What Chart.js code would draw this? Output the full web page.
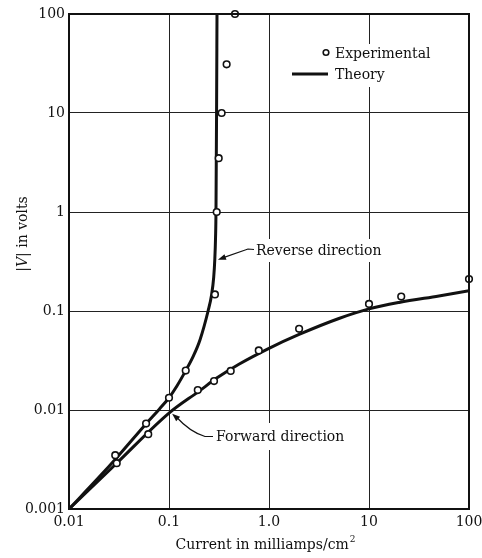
<!DOCTYPE html>
<html>
<head>
<meta charset="utf-8">
<script src="https://cdn.jsdelivr.net/npm/chart.js@4"></script>
<style>
  html, body { margin: 0; padding: 0; background: #fff; }
  #wrap { width: 482px; height: 558px; }
</style>
</head>
<body>
<div id="wrap"><canvas id="chart" width="482" height="558"></canvas></div>
<script>
// experimental points, reverse direction
const revExpX = [0.029, 0.059, 0.10, 0.147, 0.288, 0.30, 0.314, 0.336, 0.377, 0.457]
const revExpY = [0.0035, 0.0073, 0.0133, 0.025, 0.147, 1.0, 3.5, 10, 31, 100]
// experimental points, forward direction
const fwdExpX = [0.030, 0.062, 0.194, 0.282, 0.414, 0.79, 2.0, 10, 21, 100]
const fwdExpY = [0.0029, 0.0057, 0.0159, 0.0196, 0.0248, 0.040, 0.066, 0.118, 0.14, 0.21]
// theory curves
const revThX = [0.01, 0.02, 0.03, 0.06, 0.08, 0.1, 0.12, 0.147, 0.175, 0.204, 0.246, 0.267, 0.28, 0.287, 0.292, 0.295, 0.299, 0.302]
const revThY = [0.001, 0.0021, 0.0033, 0.0074, 0.0102, 0.0133, 0.0175, 0.025, 0.035, 0.051, 0.1, 0.147, 0.22, 0.33, 0.55, 1, 10, 100]
const fwdThX = [0.01, 0.03, 0.1, 0.2, 0.3, 0.5, 1, 2, 5, 10, 20, 50, 100]
const fwdThY = [0.001, 0.0029, 0.0093, 0.0155, 0.021, 0.029, 0.042, 0.058, 0.084, 0.105, 0.122, 0.142, 0.16]

const xTicks = [0.01, 0.1, 1, 10, 100]
const xTickLabels = ['0.01', '0.1', '1.0', '10', '100']
const yTicks = [0.001, 0.01, 0.1, 1, 10, 100]
const yTickLabels = ['0.001', '0.01', '0.1', '1', '10', '100']

const FONT = 'DejaVu Serif'
const pts = (xs, ys) => xs.map((x, i) => ({ x, y: ys[i] }))

function arrowHead(ctx, fx, fy, tx, ty) {
  const a = Math.atan2(ty - fy, tx - fx)
  const len = 8, w = 3
  ctx.beginPath()
  ctx.moveTo(tx, ty)
  ctx.lineTo(tx - len * Math.cos(a) + w * Math.sin(a), ty - len * Math.sin(a) - w * Math.cos(a))
  ctx.lineTo(tx - len * Math.cos(a) - w * Math.sin(a), ty - len * Math.sin(a) + w * Math.cos(a))
  ctx.closePath()
  ctx.fill()
}

const decor = {
  id: 'decor',
  beforeDatasetsDraw(chart) {
    const ctx = chart.ctx
    ctx.save()
    ctx.fillStyle = '#fff'
    // gaps in the grid behind the text
    ctx.fillRect(289, 44, 145, 43)
    ctx.fillRect(253, 239, 129, 23)
    ctx.fillRect(212, 423, 137, 27)
    ctx.restore()
  },
  afterDraw(chart) {
    const ctx = chart.ctx
    const a = chart.chartArea
    const xs = chart.scales.x, ys = chart.scales.y
    ctx.save()
    ctx.strokeStyle = '#111'
    ctx.fillStyle = '#111'
    ctx.lineWidth = 2
    ctx.strokeRect(a.left, a.top, a.right - a.left, a.bottom - a.top)

    ctx.font = '14px "' + FONT + '"'
    ctx.textBaseline = 'alphabetic'
    ctx.textAlign = 'left'

    // legend
    ctx.lineWidth = 1.6
    ctx.fillStyle = '#fff'
    ctx.beginPath(); ctx.arc(326, 52.5, 2.8, 0, Math.PI * 2); ctx.fill(); ctx.stroke()
    ctx.fillStyle = '#111'
    ctx.fillText('Experimental', 335, 58)
    ctx.lineWidth = 3
    ctx.beginPath(); ctx.moveTo(292, 74); ctx.lineTo(328, 74); ctx.stroke()
    ctx.fillText('Theory', 335, 79)

    // reverse direction label
    ctx.lineWidth = 1.2
    const rx = xs.getPixelForValue(0.288) + 3, ry = ys.getPixelForValue(0.33)
    ctx.beginPath(); ctx.moveTo(254, 249.5); ctx.lineTo(248, 249); ctx.lineTo(rx + 4, ry - 1.5); ctx.stroke()
    arrowHead(ctx, 248, 249, rx, ry)
    ctx.fillText('Reverse direction', 256, 255)

    // forward direction label
    const fx = xs.getPixelForValue(0.105) + 1, fy = ys.getPixelForValue(0.0096) + 2
    ctx.beginPath(); ctx.moveTo(213, 436.5); ctx.lineTo(205, 436.5)
    ctx.quadraticCurveTo(190, 432, fx + 4, fy + 3); ctx.stroke()
    arrowHead(ctx, 185, 425, fx, fy)
    ctx.fillText('Forward direction', 216, 441)

    // x title with superscript
    const main = 'Current in milliamps/cm'
    const w1 = ctx.measureText(main).width
    ctx.font = '9px "' + FONT + '"'
    const w2 = ctx.measureText('2').width
    const x0 = 265 - (w1 + w2) / 2
    ctx.font = '14px "' + FONT + '"'
    ctx.fillText(main, x0, 549)
    ctx.font = '9px "' + FONT + '"'
    ctx.fillText('2', x0 + w1 + 1, 542)

    // y title, rotated, italic V
    ctx.translate(27, 234)
    ctx.rotate(-Math.PI / 2)
    const p1 = '|', p3 = '| in volts'
    ctx.font = 'italic 14px "' + FONT + '"'
    const wv = ctx.measureText('V').width
    ctx.font = '14px "' + FONT + '"'
    const wp1 = ctx.measureText(p1).width, wp3 = ctx.measureText(p3).width
    let sx = -(wp1 + wv + wp3) / 2
    ctx.fillText(p1, sx, 0); sx += wp1
    ctx.font = 'italic 14px "' + FONT + '"'
    ctx.fillText('V', sx, 0); sx += wv
    ctx.font = '14px "' + FONT + '"'
    ctx.fillText(p3, sx, 0)
    ctx.restore()
  }
}

const theoryStyle = {
  borderColor: '#111',
  borderWidth: 3,
  pointRadius: 0,
  fill: false,
  cubicInterpolationMode: 'monotone',
  showLine: true,
  order: 2
}
const expStyle = {
  showLine: false,
  pointRadius: 3.3,
  pointBorderWidth: 1.6,
  pointBackgroundColor: '#fff',
  pointBorderColor: '#111',
  clip: false,
  order: 1
}

new Chart(document.getElementById('chart'), {
  type: 'scatter',
  data: {
    datasets: [
      { label: 'Theory reverse', data: pts(revThX, revThY), ...theoryStyle },
      { label: 'Theory forward', data: pts(fwdThX, fwdThY), ...theoryStyle },
      { label: 'Experimental reverse', data: pts(revExpX, revExpY), ...expStyle },
      { label: 'Experimental forward', data: pts(fwdExpX, fwdExpY), ...expStyle }
    ]
  },
  options: {
    responsive: false,
    animation: false,
    layout: { padding: { top: 14, right: 13, left: 0, bottom: 0 } },
    plugins: { legend: { display: false }, tooltip: { enabled: false } },
    scales: {
      x: {
        type: 'logarithmic',
        min: 0.01,
        max: 100,
        afterBuildTicks(s) { s.ticks = xTicks.map(v => ({ value: v })) },
        afterFit(s) { s.height = 49; s.paddingLeft = 0; s.paddingRight = 0 },
        ticks: {
          color: '#111',
          padding: 5,
          maxRotation: 0,
          font: { family: FONT, size: 14 },
          callback: v => xTickLabels[xTicks.indexOf(v)] ?? ''
        },
        grid: { color: '#222', lineWidth: 1, drawTicks: false },
        border: { display: false }
      },
      y: {
        type: 'logarithmic',
        min: 0.001,
        max: 100,
        afterBuildTicks(s) { s.ticks = yTicks.map(v => ({ value: v })) },
        afterFit(s) { s.width = 69; s.paddingTop = 0; s.paddingBottom = 0 },
        ticks: {
          color: '#111',
          padding: 4,
          font: { family: FONT, size: 14 },
          callback: v => yTickLabels[yTicks.indexOf(v)] ?? ''
        },
        grid: { color: '#222', lineWidth: 1, drawTicks: false },
        border: { display: false }
      }
    }
  },
  plugins: [decor]
})
</script>
</body>
</html>
